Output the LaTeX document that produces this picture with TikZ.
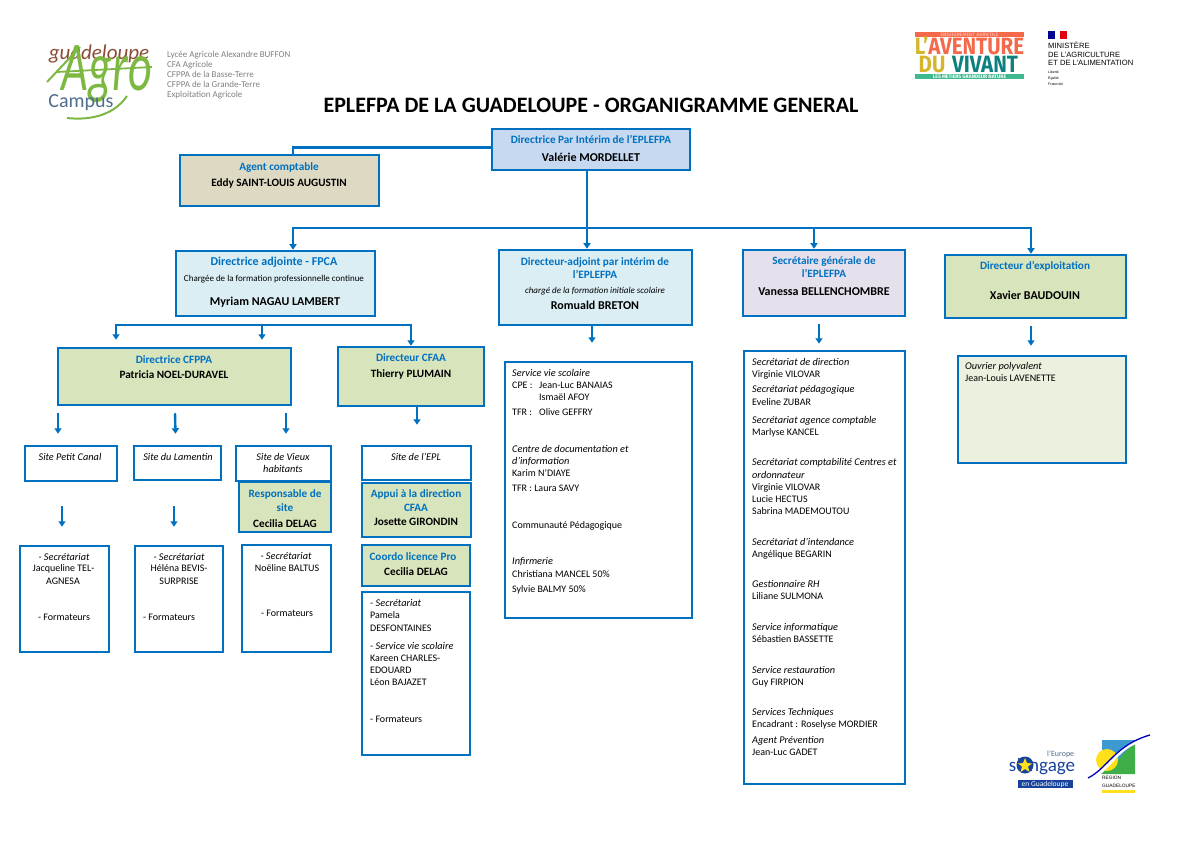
\documentclass[tikz,border=0pt]{standalone}
\usepackage{fontspec}
\usepackage{graphicx}
\setmainfont{Carlito}
\newfontfamily\logofont{Fira Sans}
\newfontfamily\lognb{Liberation Sans}
\usetikzlibrary{arrows.meta,fit,calc}
\definecolor{bl}{HTML}{0070C0}
\definecolor{fdir}{HTML}{C6D9F1}
\definecolor{fagt}{HTML}{DDD9C3}
\definecolor{fadj}{HTML}{DBEEF4}
\definecolor{fsec}{HTML}{E5E0EC}
\definecolor{fgrn}{HTML}{D8E4BC}
\definecolor{fouv}{HTML}{EBF1DE}
\definecolor{lgreen}{HTML}{7DB843}
\definecolor{lbrown}{HTML}{8A4B32}
\definecolor{lslate}{HTML}{4F6D8C}
\definecolor{lorange}{HTML}{F4694A}
\definecolor{lyellow}{HTML}{D3B62C}
\definecolor{lteal}{HTML}{0F8080}
\definecolor{lmint}{HTML}{3DB88F}
\definecolor{mblue}{HTML}{000091}
\definecolor{mred}{HTML}{E1000F}
\definecolor{eublue}{HTML}{17439B}
\definecolor{rgreen}{HTML}{3FAE49}
\definecolor{rblue}{HTML}{3C9AD0}
\definecolor{ryellow}{HTML}{FFE01A}
\newcounter{tn}
\newcommand\tc[4]{\stepcounter{tn}\node[#3,anchor=center] (t\arabic{tn}) at (#1,#2) {#4};}
\newcommand\tl[4]{\stepcounter{tn}\node[#3,anchor=west] (t\arabic{tn}) at (#1,#2) {#4};}
\newcommand\bx[6]{\node[orgbox,fill=#6,fit={(#2,#3)(#4,#5)}] (#1) {};}
\tikzset{
 orgbox/.style={draw=bl,line width=2.5pt,inner sep=0pt,rectangle},
 conn/.style={draw=bl,line width=2.4pt},
 arr/.style={draw=bl,line width=2.4pt,-{Triangle[width=7pt,length=5.5pt]}},
 txt/.style={inner sep=0pt,text=black},
 ln/.style={txt,text height=8pt,text depth=1pt},
 head/.style={ln,text=bl,font=\fontsize{11.2}{13}\selectfont\bfseries},
 headl/.style={ln,text=bl,font=\fontsize{12}{14}\selectfont\bfseries},
 nm/.style={ln,font=\fontsize{11.2}{13}\selectfont\bfseries},
 nml/.style={ln,font=\fontsize{12}{14}\selectfont\bfseries},
 rg/.style={ln,font=\fontsize{10}{12}\selectfont},
 itl/.style={ln,font=\fontsize{10.3}{12}\selectfont\itshape},
 sm/.style={ln,font=\fontsize{9}{11}\selectfont},
 gr/.style={ln,text=black!50,font=\fontsize{9}{11}\selectfont},
}
\begin{document}
\begin{tikzpicture}[x=1pt,y=-1pt]
\useasboundingbox (0,0) rectangle (1191,842);
% ---- logo Guadeloupe Agro Campus
\tc{99}{54}{txt,text=lbrown,font=\fontsize{21}{23}\selectfont\itshape}{guadeloupe}
\tc{107}{74}{txt,text=lgreen,font=\fontsize{70}{72}\selectfont\itshape}{\scalebox{0.66}[1]{Agro}}
\draw[lgreen,line width=1.8pt] (57,72) -- (152,67);
\draw[lgreen,line width=2pt] (47,82) -- (80,47);
\draw[lgreen,line width=2pt] (67,118) .. controls (85,120) and (112,118) .. (127,96);
\tc{81}{103}{txt,text=lslate,font=\fontsize{20}{22}\selectfont}{Campus}
\tl{167}{54}{gr}{Lycée Agricole Alexandre BUFFON}
\tl{167}{64}{gr}{CFA Agricole}
\tl{167}{74}{gr}{CFPPA de la Basse-Terre}
\tl{167}{84}{gr}{CFPPA de la Grande-Terre}
\tl{167}{94}{gr}{Exploitation Agricole}
% ---- logo Aventure du vivant
\fill[lorange] (915,32) rectangle (1024,37);
\tc{969.5}{34.5}{txt,text=lorange!55!white,font=\logofont\fontsize{5}{6}\selectfont\bfseries}{ENSEIGNEMENT AGRICOLE}
\tc{969.5}{45.5}{txt,text=lorange,font=\logofont\fontsize{20.5}{22}\selectfont\bfseries}{\scalebox{1}[1.15]{\textcolor{lyellow}{L’}AVENTURE}}
\tc{932}{64.5}{txt,text=lyellow,font=\logofont\fontsize{20.5}{22}\selectfont\bfseries}{\scalebox{1}[1.15]{DU}}
\tc{985}{64.5}{txt,text=lteal,font=\logofont\fontsize{20.5}{22}\selectfont\bfseries}{\scalebox{1}[1.15]{VIVANT}}
\fill[lmint] (915,74) rectangle (1024,79);
\tc{969.5}{76.5}{txt,text=white,font=\logofont\fontsize{5}{6}\selectfont\bfseries}{LES MÉTIERS GRANDEUR NATURE}
% ---- logo ministere
\fill[mblue] (1048,31) rectangle (1055,39);
\fill[mred] (1060,31) rectangle (1067,39);
\tl{1048}{45.5}{txt,font=\lognb\fontsize{7.6}{9}\selectfont}{MINISTÈRE}
\tl{1048}{54.5}{txt,font=\lognb\fontsize{7.6}{9}\selectfont}{DE L’AGRICULTURE}
\tl{1048}{63}{txt,font=\lognb\fontsize{7.6}{9}\selectfont}{ET DE L’ALIMENTATION}
\tl{1048}{72}{txt,font=\lognb\fontsize{3.5}{4}\selectfont}{Liberté}
\tl{1048}{78}{txt,font=\lognb\fontsize{3.5}{4}\selectfont}{Égalité}
\tl{1048}{84}{txt,font=\lognb\fontsize{3.5}{4}\selectfont}{Fraternité}
% ---- logo Europe
\fill[eublue] (1018,780) rectangle (1073,788);
\tl{1047}{754}{txt,text=lslate,font=\fontsize{8}{9}\selectfont}{l’Europe}
\tc{1042}{766}{txt,text=eublue,font=\fontsize{19}{20}\selectfont}{s’engage}
\fill[eublue] (1025,765) circle (8.5);
\fill[ryellow] (1025,758) -- (1027,763) -- (1032,763.5) -- (1028,766.5) -- (1029.5,772) -- (1025,769) -- (1020.5,772) -- (1022,766.5) -- (1018,763.5) -- (1023,763) -- cycle;
\tc{1045}{784}{txt,text=white,font=\fontsize{7.5}{8}\selectfont}{en Guadeloupe}
% ---- logo Region
\fill[rblue] (1102,740) rectangle (1135,772);
\fill[rgreen] (1135,744) -- (1135,774) -- (1100,774) -- (1113,764) .. controls (1120,760) and (1124,750) .. cycle;
\fill[ryellow] (1107,760) circle (11);
\draw[white,line width=3pt] (1086,782) .. controls (1108,772) and (1115,750) .. (1137,742);
\draw[blue!75!black,line width=1.3pt] (1088,778) .. controls (1108,768) and (1115,745) .. (1150,735);
\tl{1102}{778}{txt,font=\lognb\fontsize{4.8}{6}\selectfont}{REGION}
\tl{1102}{786}{txt,font=\lognb\fontsize{4.8}{6}\selectfont}{GUADELOUPE}
\fill[ryellow] (1102,790) rectangle (1135,793);
% ---- title
\node[txt,font=\fontsize{22}{26}\selectfont\bfseries] (title) at (591,105) {EPLEFPA DE LA GUADELOUPE - ORGANIGRAMME GENERAL};
% ---- boxes
\bx{dir}{492}{129}{690}{170}{fdir}
\bx{agent}{180}{155}{379}{206}{fagt}
\bx{fpca}{176}{251}{375}{316}{fadj}
\bx{dep}{499}{250}{692}{325}{fadj}
\bx{sec}{743}{250}{905}{316}{fsec}
\bx{expl}{945}{255}{1126}{318}{fgrn}
\bx{ouv}{958}{356}{1126}{463}{fouv}
\bx{liste}{744}{351}{905}{784}{white}
\bx{ldep}{505}{362}{692}{618}{white}
\bx{cfppa}{58}{348}{291}{405}{fgrn}
\bx{cfaa}{338}{347}{484}{406}{fgrn}
\bx{s1}{25}{446}{117}{481}{white}
\bx{s2}{134}{446}{221}{480}{white}
\bx{s3}{236}{446}{331}{481}{white}
\bx{resp}{239}{482}{331}{532}{fgrn}
\bx{b1}{20}{546}{109}{652}{white}
\bx{b2}{135}{546}{223}{652}{white}
\bx{b3}{242}{545}{331}{652}{white}
\bx{epl}{362}{446}{471}{480}{white}
\bx{appui}{362}{483}{471}{537}{fgrn}
\bx{coordo}{362}{545}{470}{586}{fgrn}
\bx{lcfaa}{362}{592}{470}{755}{white}
% ---- connectors
\coordinate (bus) at (587,228);
\draw[conn] ([xshift=-4]dir.south) -- (bus);
\draw[conn] ([yshift=2]dir.west) -| ([xshift=13.5]agent.north);
\draw[arr] (bus) -| ([xshift=17.5]fpca.north);
\draw[arr] (bus) -- ([xshift=-8.5]dep.north);
\draw[arr] (bus) -| ([xshift=-10]sec.north);
\draw[arr] (bus) -| ([xshift=-4.5]expl.north);
\draw[arr] ([xshift=-3.5,yshift=2]dep.south) -- ([xshift=-6.5,yshift=18]ldep.north);
\draw[arr] ([xshift=-5,yshift=-7]sec.south) -- ([xshift=-5.5,yshift=6]liste.north);
\draw[arr] ([xshift=-4.5,yshift=-7]expl.south) -- ([xshift=-11,yshift=9]ouv.north);
\coordinate (bus2) at (262,325);
\draw[arr] (bus2) -| ([xshift=-58.5,yshift=7]cfppa.north);
\draw[arr] (bus2) -- ([xshift=87.5,yshift=7]cfppa.north);
\draw[arr] (bus2) -| (cfaa.north);
\draw[arr] ([xshift=-116.5,yshift=-7]cfppa.south) -- ([xshift=-13,yshift=11]s1.north);
\draw[arr] ([xshift=0.5,yshift=-7]cfppa.south) -- ([xshift=-2,yshift=11]s2.north);
\draw[arr] ([xshift=111.5,yshift=-7]cfppa.south) -- ([xshift=2.5,yshift=11]s3.north);
\draw[arr] ([xshift=6,yshift=1]cfaa.south) -- ([xshift=0.5,yshift=20]epl.north);
\draw[arr] ([xshift=-9,yshift=-24]s1.south) -- ([xshift=-2.5,yshift=18]b1.north);
\draw[arr] ([xshift=-3.5,yshift=-25]s2.south) -- ([xshift=-5,yshift=18]b2.north);
% ---- texts
\tc{591}{140}{head}{Directrice Par Intérim de l’EPLEFPA}
\tc{591}{158}{nml}{Valérie MORDELLET}
\tc{279}{167}{head}{Agent comptable}
\tc{279}{183}{nm}{Eddy SAINT-LOUIS AUGUSTIN}
\tc{274}{262}{headl}{Directrice adjointe - FPCA}
\tc{274}{278}{sm}{Chargée de la formation professionnelle continue}
\tc{275}{302}{nml}{Myriam NAGAU LAMBERT}
\tc{595}{262}{head}{Directeur-adjoint par intérim  de}
\tc{595}{275}{head}{l’EPLEFPA}
\tc{595}{290}{sm,font=\fontsize{9}{11}\selectfont\itshape}{chargé de la formation initiale scolaire}
\tc{595}{306}{nml}{Romuald BRETON}
\tc{824}{261}{head}{Secrétaire générale de}
\tc{824}{274}{head}{l’EPLEFPA}
\tc{824}{292}{nml}{Vanessa BELLENCHOMBRE}
\tc{1035}{266}{head}{Directeur d’exploitation}
\tc{1035}{296}{nml}{Xavier BAUDOUIN}
\tl{965}{366}{itl}{Ouvrier polyvalent}
\tl{965}{378}{rg}{Jean-Louis LAVENETTE}
\tc{174}{360}{head}{Directrice CFPPA}
\tc{174}{375}{nm}{Patricia NOEL-DURAVEL}
\tc{411}{358}{head}{Directeur CFAA}
\tc{411}{374}{nm}{Thierry PLUMAIN}
\tc{70}{457}{itl}{Site Petit Canal}
\tc{178}{457}{itl}{Site du Lamentin}
\tc{283}{457}{itl}{Site de Vieux}
\tc{283}{469}{itl}{habitants}
\tc{285}{494}{head}{Responsable de}
\tc{285}{508}{head}{site}
\tc{285}{524}{nm}{Cecilia DELAG}
\tc{64}{557}{itl}{- Secrétariat}
\tc{63.5}{568}{rg}{Jacqueline TEL-}
\tc{63}{581}{rg}{AGNESA}
\tc{64}{617}{rg}{- Formateurs}
\tc{179}{557}{itl}{- Secrétariat}
\tc{179}{568}{rg}{Héléna BEVIS-}
\tc{179}{581}{rg}{SURPRISE}
\tc{169}{617}{rg}{-  Formateurs}
\tc{286}{556}{itl}{- Secrétariat}
\tc{287}{568}{rg}{Noëline BALTUS}
\tc{287}{613}{rg}{- Formateurs}
\tc{416}{457}{itl}{Site de l’EPL}
\tc{416}{494}{head}{Appui à la direction}
\tc{416}{508}{head}{CFAA}
\tc{416}{522}{nm}{Josette GIRONDIN}
\tc{413}{557}{head}{Coordo licence Pro}
\tc{416}{572}{nm}{Cecilia DELAG}
\tl{370}{603}{itl}{- Secrétariat}
\tl{370}{615}{rg}{Pamela}
\tl{370}{628}{rg}{DESFONTAINES}
\tl{370}{646}{itl}{- Service vie scolaire}
\tl{370}{658}{rg}{Kareen CHARLES-}
\tl{370}{670}{rg}{EDOUARD}
\tl{370}{682}{rg}{Léon BAJAZET}
\tl{370}{719}{rg}{- Formateurs}
\tl{512}{373}{itl}{Service vie scolaire}
\tl{512}{385}{rg}{CPE :}
\tl{539}{385}{rg}{Jean-Luc BANAIAS}
\tl{539}{397}{rg}{Ismaël AFOY}
\tl{512}{412}{rg}{TFR :}
\tl{539}{412}{rg}{Olive GEFFRY}
\tl{512}{449}{itl}{Centre de documentation et}
\tl{512}{461}{itl}{d’information}
\tl{512}{473}{rg}{Karim N’DIAYE}
\tl{512}{488}{rg}{TFR : Laura SAVY}
\tl{512}{525}{rg}{Communauté Pédagogique}
\tl{512}{561}{itl}{Infirmerie}
\tl{512}{574}{rg}{Christiana MANCEL 50\%}
\tl{512}{589}{rg}{Sylvie BALMY 50\%}
\tl{752}{362}{itl}{Secrétariat de direction}
\tl{752}{374}{rg}{Virginie VILOVAR}
\tl{752}{389}{itl}{Secrétariat pédagogique}
\tl{752}{402}{rg}{Eveline ZUBAR}
\tl{752}{420}{itl}{Secrétariat agence comptable}
\tl{752}{432}{rg}{Marlyse KANCEL}
\tl{752}{462}{itl}{Secrétariat comptabilité Centres et}
\tl{752}{475}{itl}{ordonnateur}
\tl{752}{487}{rg}{Virginie VILOVAR}
\tl{752}{499}{rg}{Lucie HECTUS}
\tl{752}{511}{rg}{Sabrina MADEMOUTOU}
\tl{752}{542}{itl}{Secrétariat d’intendance}
\tl{752}{554}{rg}{Angélique BEGARIN}
\tl{752}{584}{itl}{Gestionnaire  RH}
\tl{752}{596}{rg}{Liliane SULMONA}
\tl{752}{627}{itl}{Service informatique}
\tl{752}{639}{rg}{Sébastien BASSETTE}
\tl{752}{670}{itl}{Service restauration}
\tl{752}{682}{rg}{Guy FIRPION}
\tl{752}{712}{itl}{Services Techniques}
\tl{752}{724}{rg}{Encadrant : Roselyse MORDIER}
\tl{752}{740}{itl}{Agent Prévention}
\tl{752}{752}{rg}{Jean-Luc GADET}
\end{tikzpicture}
\end{document}
